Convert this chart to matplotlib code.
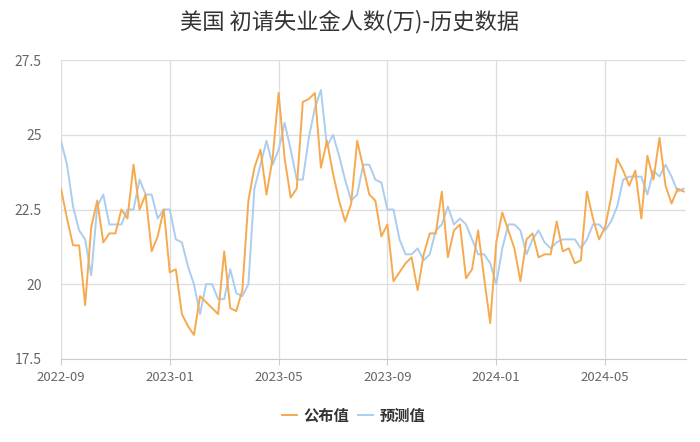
import matplotlib
matplotlib.use("Agg")
import matplotlib.pyplot as plt
import pandas as pd

plt.rcParams['font.family'] = ['Noto Sans CJK SC', 'DejaVu Sans']

# weekly release dates (one week, 2024-01-11, is absent from the source)
dates = pd.date_range("2022-09-01", "2024-08-29", freq="7D")
dates = dates[dates != pd.Timestamp("2024-01-11")]

published = [23.2, 22.2, 21.3, 21.3, 19.3, 21.9, 22.8, 21.4, 21.7, 21.7,
             22.5, 22.2, 24.0, 22.5, 23.0, 21.1, 21.6, 22.5, 20.4, 20.5,
             19.0, 18.6, 18.3, 19.6, 19.4, 19.2, 19.0, 21.1, 19.2, 19.1,
             19.8, 22.8, 23.9, 24.5, 23.0, 24.2, 26.4, 24.2, 22.9, 23.2,
             26.1, 26.2, 26.4, 23.9, 24.8, 23.7, 22.8, 22.1, 22.7, 24.8,
             23.9, 23.0, 22.8, 21.6, 22.0, 20.1, 20.4, 20.7, 20.9, 19.8,
             21.0, 21.7, 21.7, 23.1, 20.9, 21.8, 22.0, 20.2, 20.5, 21.8,
             20.2, 18.7, 21.4, 22.4, 21.8, 21.2, 20.1, 21.5, 21.7, 20.9,
             21.0, 21.0, 22.1, 21.1, 21.2, 20.7, 20.8, 23.1, 22.2, 21.5,
             21.9, 22.9, 24.2, 23.8, 23.3, 23.8, 22.2, 24.3, 23.5, 24.9,
             23.3, 22.7, 23.2, 23.1]

forecast = [24.8, 24.0, 22.6, 21.8, 21.5, 20.3, 22.6, 23.0, 22.0, 22.0,
            22.0, 22.5, 22.5, 23.5, 23.0, 23.0, 22.2, 22.5, 22.5, 21.5,
            21.4, 20.6, 20.0, 19.0, 20.0, 20.0, 19.5, 19.5, 20.5, 19.7,
            19.6, 20.0, 23.2, 24.0, 24.8, 24.0, 24.5, 25.4, 24.5, 23.5,
            23.5, 24.9, 25.9, 26.5, 24.6, 25.0, 24.3, 23.5, 22.8, 23.0,
            24.0, 24.0, 23.5, 23.4, 22.5, 22.5, 21.5, 21.0, 21.0, 21.2,
            20.8, 21.0, 21.8, 22.0, 22.6, 22.0, 22.2, 22.0, 21.5, 21.0,
            21.0, 20.7, 20.0, 21.2, 22.0, 22.0, 21.8, 21.0, 21.5, 21.8,
            21.4, 21.2, 21.4, 21.5, 21.5, 21.5, 21.2, 21.5, 22.0, 22.0,
            21.8, 22.1, 22.6, 23.5, 23.6, 23.6, 23.6, 23.0, 23.8, 23.6,
            24.0, 23.6, 23.1, 23.2]

y_ticks = [17.5, 20, 22.5, 25, 27.5]
y_labels = ["17.5", "20", "22.5", "25", "27.5"]
label_step = 18

x = list(range(len(dates)))
tick_pos = x[::label_step]
tick_labels = [dates[i].strftime("%Y-%m") for i in tick_pos]

fig = plt.figure(figsize=(7, 4.42), dpi=100)
ax = fig.add_axes([0.0871, 0.188, 0.893, 0.676])

ax.plot(x, published, color="#f6aa50", lw=1.4, label="公布值", zorder=3)
ax.plot(x, forecast, color="#abcdef", lw=1.4, label="预测值", zorder=2)

ax.set_ylim(17.5, 27.5)
ax.set_xlim(0, len(x) - 0.6)
ax.set_yticks(y_ticks)
ax.set_yticklabels(y_labels)
ax.set_xticks(tick_pos)
ax.set_xticklabels(tick_labels)

ax.grid(True, color="#dddddd", lw=0.9)
ax.set_axisbelow(True)
for s in ["top", "right", "left"]:
    ax.spines[s].set_visible(False)
ax.spines["bottom"].set_color("#cccccc")
ax.tick_params(axis="y", length=0, pad=14, labelsize=10, labelcolor="#666666")
ax.tick_params(axis="x", length=4, color="#cccccc", pad=5, labelsize=9.5,
               labelcolor="#666666")

fig.suptitle("美国 初请失业金人数(万)-历史数据", y=0.978, fontsize=16, color="#333333")

leg = fig.legend(loc="lower center", bbox_to_anchor=(0.505, 0.01), ncol=2,
                 frameon=False, handlelength=1.0, columnspacing=0.6,
                 handletextpad=0.4, prop={"size": 11, "weight": "bold"})
for t in leg.get_texts():
    t.set_color("#333333")

fig.savefig("out.png", dpi=100)
